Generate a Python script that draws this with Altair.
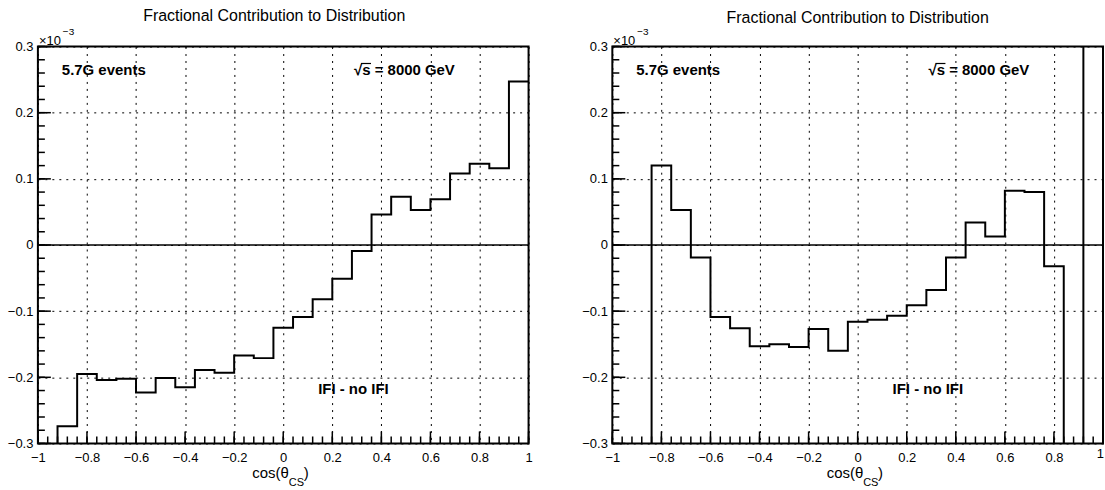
import altair as alt
import pandas as pd
import numpy as np

# ---------------- data (values in units of 1e-3) ----------------
bin_edges = [-1.0, -0.92, -0.84, -0.76, -0.68, -0.60, -0.52, -0.44, -0.36, -0.28,
             -0.20, -0.12, -0.04, 0.04, 0.12, 0.20, 0.28, 0.36, 0.44, 0.52,
             0.60, 0.68, 0.76, 0.84, 0.92, 1.0]

left_values = [-0.45, -0.274, -0.195, -0.204, -0.202, -0.223, -0.201, -0.215, -0.189, -0.193,
               -0.167, -0.171, -0.125, -0.109, -0.082, -0.051, -0.009, 0.046, 0.073, 0.053,
               0.069, 0.108, 0.123, 0.116, 0.247]

right_values = [-0.45, -0.45, 0.120, 0.053, -0.019, -0.109, -0.126, -0.153, -0.150, -0.154,
                -0.127, -0.160, -0.116, -0.113, -0.107, -0.091, -0.068, -0.019, 0.034, 0.013,
                0.082, 0.080, -0.032, -0.45, 0.45]

x_ticks = [-1, -0.8, -0.6, -0.4, -0.2, 0, 0.2, 0.4, 0.6, 0.8, 1]
y_ticks = [-0.3, -0.2, -0.1, 0, 0.1, 0.2, 0.3]
x_minor = [round(v, 3) for v in np.linspace(-1, 1, 51)]
y_minor = [round(v, 3) for v in np.linspace(-0.3, 0.3, 31)]

TITLE = "Fractional Contribution to Distribution"
FONT = "Liberation Sans"
W, H = 492, 398


def txt(s, x, y, size=14, bold=False, align="left", color="black"):
    return alt.Chart(pd.DataFrame({"s": [s]})).mark_text(
        text=s, align=align, baseline="alphabetic", font=FONT, fontSize=size,
        fontWeight="bold" if bold else "normal", color=color
    ).encode(x=alt.value(x), y=alt.value(y))


def panel(values, title_x, title_y, last_label):
    xs = alt.Scale(domain=[-1, 1], nice=False, zero=False)
    ys = alt.Scale(domain=[-0.3, 0.3], nice=False, zero=False)
    xlab = x_ticks if last_label else x_ticks[:-1]
    xax = alt.Axis(
        values=xlab, format="~g", grid=True, gridDash=[2, 5], gridColor="black",
        gridOpacity=1, gridWidth=1, ticks=False, domain=False, labelFont=FONT,
        labelFontSize=13, labelColor="black", labelPadding=8, labelFlush=False,
        title=None)
    yax = alt.Axis(
        values=y_ticks, format="~g", grid=True, gridDash=[2, 5], gridColor="black",
        gridOpacity=1, gridWidth=1, ticks=False, domain=False, labelFont=FONT,
        labelFontSize=13, labelColor="black", labelPadding=5, labelFlush=False,
        title=None)
    steps = pd.DataFrame({"x": bin_edges, "y": values + [values[-1]]})

    hist = alt.Chart(steps).mark_line(
        interpolate="step-after", color="black", strokeWidth=2, clip=True
    ).encode(
        x=alt.X("x:Q", scale=xs, axis=xax),
        y=alt.Y("y:Q", scale=ys, axis=yax),
    )

    zero = alt.Chart(pd.DataFrame({"y": [0]})).mark_rule(color="black", strokeWidth=1.6).encode(
        y=alt.Y("y:Q", scale=ys, axis=yax))

    ymaj = alt.Chart(pd.DataFrame({"y": y_ticks})).mark_rule(color="black", strokeWidth=1.5).encode(
        y=alt.Y("y:Q", scale=ys, axis=yax), x=alt.value(0), x2=alt.value(13))
    ymin = alt.Chart(pd.DataFrame({"y": y_minor})).mark_rule(color="black", strokeWidth=1.5).encode(
        y=alt.Y("y:Q", scale=ys, axis=yax), x=alt.value(0), x2=alt.value(7))
    xmaj = alt.Chart(pd.DataFrame({"x": x_ticks})).mark_rule(color="black", strokeWidth=1.5).encode(
        x=alt.X("x:Q", scale=xs, axis=xax), y=alt.value(H), y2=alt.value(H - 12))
    xmin = alt.Chart(pd.DataFrame({"x": x_minor})).mark_rule(color="black", strokeWidth=1.5).encode(
        x=alt.X("x:Q", scale=xs, axis=xax), y=alt.value(H), y2=alt.value(H - 7))

    layers = [hist, zero, ymaj, ymin, xmaj, xmin,
              txt(TITLE, title_x, title_y, size=16, align="center"),
              txt("×10", 1, -2, size=13),
              txt("−3", 25, -12, size=10),
              txt("5.7G events", 24, 29, size=15, bold=True),
              txt("√s = 8000 GeV", 317, 29, size=15, bold=True),
              alt.Chart(pd.DataFrame({"a": [0]})).mark_rule(color="black", strokeWidth=1.2).encode(
                  x=alt.value(324), x2=alt.value(334), y=alt.value(17)),
              txt("IFI - no IFI", 281, 348, size=15, bold=True),
              txt("cos(θ", 215, 433, size=15),
              txt("CS", 251.5, 441, size=11),
              txt(")", 266.5, 433, size=15)]
    if not last_label:
        layers.append(txt("1", W + 1, 413, size=13, align="right"))
    return alt.layer(*layers).properties(width=W, height=H)


left = panel(left_values, 237, -26, True)
# white bounding markers fix the page origin (top-left corner and bottom edge)
left = alt.layer(
    left,
    alt.Chart(pd.DataFrame({"a": [0]})).mark_rule(color="white", strokeWidth=1).encode(
        x=alt.value(-36), x2=alt.value(-35), y=alt.value(-44.5)),
    alt.Chart(pd.DataFrame({"a": [0]})).mark_rule(color="white", strokeWidth=1).encode(
        x=alt.value(100), x2=alt.value(101), y=alt.value(444.5)),
).properties(width=W, height=H)
right = panel(right_values, 246, -24, False)

chart = alt.hconcat(left, right, spacing=84, bounds="flush").properties(
    padding=0, background="white"
).configure_view(stroke="black", strokeWidth=2)

chart.save("out.html", embed_options={"renderer": "svg", "actions": False})
